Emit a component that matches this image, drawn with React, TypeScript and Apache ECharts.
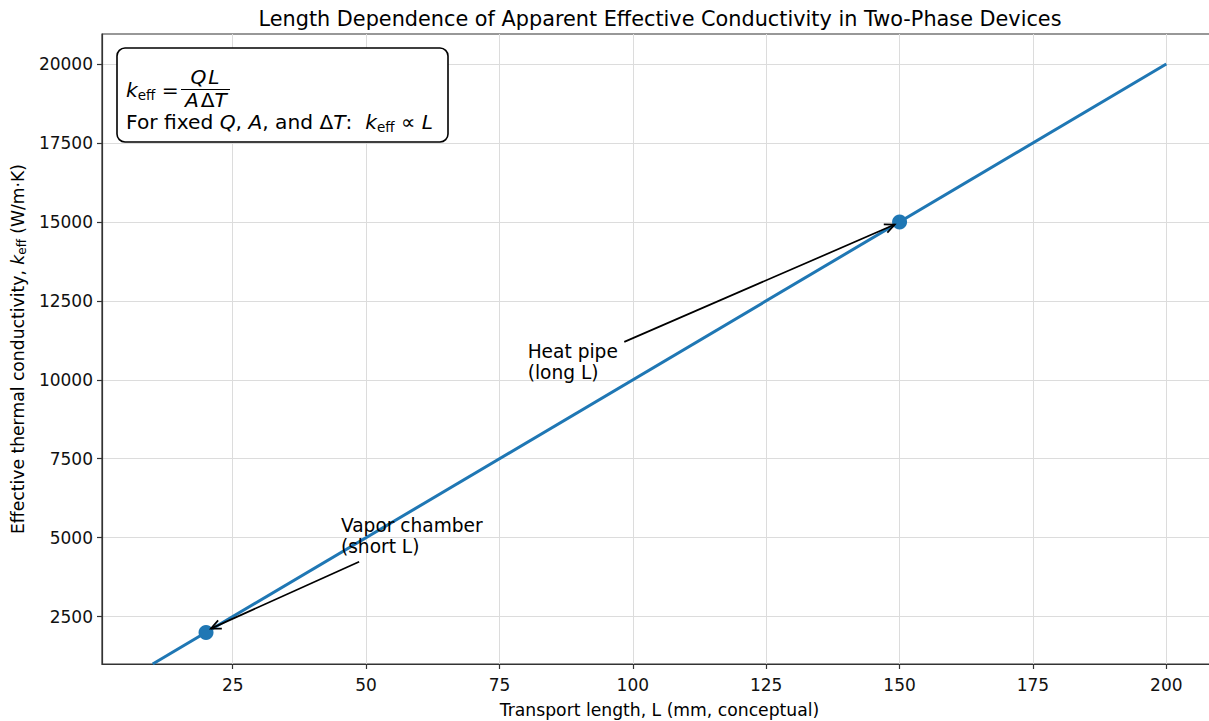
import React, { useEffect, useRef } from "react";
import * as echarts from "echarts";

const lineL = [10, 200];
const lineK = [1000, 20000];
const deviceL = [20, 150];
const deviceK = [2000, 15000];
const xTicks = [25, 50, 75, 100, 125, 150, 175, 200];
const yTicks = [2500, 5000, 7500, 10000, 12500, 15000, 17500, 20000];
const annoText = ["Vapor chamber\n(short L)", "Heat pipe\n(long L)"];
const annoTextL = [45, 80];
const annoTextK = [4500, 10000];
const arrowFrom = [
  [48.7, 4240],
  [98.4, 11200],
];
const arrowTo = [
  [20.9, 2120],
  [149.1, 14915],
];

const FONT = "DejaVu Sans";
const BLUE = "#1f77b4";

export default function App() {
  const ref = useRef<HTMLDivElement>(null);
  useEffect(() => {
    const chart = echarts.init(ref.current!, null, { renderer: "svg" });
    const option: any = {
      animation: false,
      backgroundColor: "#ffffff",
      textStyle: { fontFamily: FONT },
      title: {
        text: "Length Dependence of Apparent Effective Conductivity in Two-Phase Devices",
        left: 655,
        top: 3,
        textAlign: "center",
        textStyle: { fontFamily: FONT, fontSize: 20.8, fontWeight: "normal", color: "#000" },
      },
      grid: {
        left: 102,
        top: 34,
        right: -8,
        bottom: 57,
        show: true,
        borderColor: "#333",
        borderWidth: 1.2,
        containLabel: false,
        outerBoundsMode: "none",
      },
      xAxis: {
        type: "value",
        min: 0.5,
        max: 209.5,
        name: "Transport length, L (mm, conceptual)",
        nameLocation: "middle",
        nameGap: 37,
        nameTextStyle: { fontFamily: FONT, fontSize: 17.2, color: "#000" },
        axisLine: { show: true, onZero: false, lineStyle: { color: "#333", width: 1.2 } },
        axisTick: { show: true, length: 5, customValues: xTicks, lineStyle: { color: "#333", width: 1.2 } },
        axisLabel: {
          customValues: xTicks,
          formatter: (v: number) => String(v),
          fontFamily: FONT,
          fontSize: 17,
          color: "#111",
          margin: 12,
        },
        splitLine: { show: true, lineStyle: { color: "#dcdcdc", width: 1 } },
      },
      yAxis: {
        type: "value",
        min: 1000,
        max: 20950,
        name: "Effective thermal conductivity, {i|k}{s|eff} (W/m·K)",
        nameLocation: "middle",
        nameGap: 74,
        nameTextStyle: {
          fontFamily: FONT,
          fontSize: 17.2,
          color: "#000",
          rich: {
            i: { fontFamily: FONT, fontSize: 17.2, fontStyle: "italic", color: "#000" },
            s: { fontFamily: FONT, fontSize: 12, color: "#000", padding: [9, 0, 0, 0] },
          },
        },
        axisLine: { show: true, onZero: false, lineStyle: { color: "#333", width: 1.2 } },
        axisTick: { show: true, length: 5, customValues: yTicks, lineStyle: { color: "#333", width: 1.2 } },
        axisLabel: {
          customValues: yTicks,
          formatter: (v: number) => String(v),
          fontFamily: FONT,
          fontSize: 17,
          color: "#111",
          margin: 9,
        },
        splitLine: { show: true, lineStyle: { color: "#dcdcdc", width: 1 } },
      },
      series: [
        {
          type: "line",
          data: lineL.map((x, i) => [x, lineK[i]]),
          showSymbol: false,
          symbol: "none",
          lineStyle: { color: BLUE, width: 3 },
          z: 3,
        },
        {
          type: "scatter",
          data: deviceL.map((x, i) => [x, deviceK[i]]),
          symbol: "circle",
          symbolSize: 15,
          itemStyle: { color: BLUE, opacity: 1 },
          z: 4,
        },
        {
          type: "scatter",
          data: annoTextL.map((x, i) => [x, annoTextK[i]]),
          symbol: "circle",
          symbolSize: 1,
          silent: true,
          itemStyle: { color: "#ffffff", opacity: 0 },
          z: 10,
          label: {
            show: true,
            position: [0, 0],
            offset: [2, 4],
            align: "left",
            verticalAlign: "bottom",
            formatter: (p: any) => annoText[p.dataIndex],
            fontFamily: FONT,
            fontSize: 18.6,
            lineHeight: 21,
            color: "#000",
            opacity: 1,
          },
        },
      ],
    };
    chart.setOption(option);

    const toPx = (p: number[]) => chart.convertToPixel({ gridIndex: 0 }, p) as number[];
    const graphics: any[] = [];
    arrowFrom.forEach((f, i) => {
      const a = toPx(f);
      const b = toPx(arrowTo[i]);
      const ang = Math.atan2(a[1] - b[1], a[0] - b[0]);
      const hl = 11;
      const spread = 0.42;
      graphics.push({
        type: "line",
        z: 10,
        shape: { x1: a[0], y1: a[1], x2: b[0], y2: b[1] },
        style: { stroke: "#000", lineWidth: 1.7 },
      });
      graphics.push({
        type: "polyline",
        z: 10,
        shape: {
          points: [
            [b[0] + hl * Math.cos(ang + spread), b[1] + hl * Math.sin(ang + spread)],
            [b[0], b[1]],
            [b[0] + hl * Math.cos(ang - spread), b[1] + hl * Math.sin(ang - spread)],
          ],
        },
        style: { stroke: "#000", lineWidth: 1.7, fill: "none" },
      });
    });

    // Formula box
    graphics.push({
      type: "rect",
      z: 20,
      shape: { x: 117, y: 48, width: 331, height: 94, r: 8 },
      style: { fill: "#fff", stroke: "#000", lineWidth: 1.6 },
    });
    const rich = {
      n: { fontFamily: FONT, fontSize: 20.2, fill: "#000" },
      i: { fontFamily: FONT, fontSize: 20.2, fontStyle: "italic", fill: "#000" },
      s: { fontFamily: FONT, fontSize: 13.5, fill: "#000", padding: [10, 0, 0, 0] },
      t: { fontFamily: FONT, fontSize: 6, fill: "#000" },
    };
    graphics.push({
      type: "text",
      z: 21,
      x: 126,
      y: 90,
      style: { text: "{i|k}{s|eff}{n| =}", rich, verticalAlign: "middle", align: "left" },
    });
    graphics.push({
      type: "text",
      z: 21,
      x: 205,
      y: 77,
      style: { text: "{i|Q}{t| }{i|L}", rich, verticalAlign: "middle", align: "center" },
    });
    graphics.push({
      type: "line",
      z: 21,
      shape: { x1: 181, y1: 89.5, x2: 230, y2: 89.5 },
      style: { stroke: "#000", lineWidth: 1.2 },
    });
    graphics.push({
      type: "text",
      z: 21,
      x: 206,
      y: 100,
      style: { text: "{i|A}{t| }{n|Δ}{i|T}", rich, verticalAlign: "middle", align: "center" },
    });
    graphics.push({
      type: "text",
      z: 21,
      x: 126,
      y: 122,
      style: {
        text: "{n|For fixed }{i|Q}{n|, }{i|A}{n|, and Δ}{i|T}{n|:  }{i|k}{s|eff}{n| ∝ }{i|L}",
        rich,
        verticalAlign: "middle",
        align: "left",
      },
    });
    chart.setOption({ graphic: graphics });

    return () => chart.dispose();
  }, []);
  return (
    <div
      ref={ref}
      style={{ position: "absolute", left: 0, top: 0, width: 1209, height: 721 }}
    />
  );
}
